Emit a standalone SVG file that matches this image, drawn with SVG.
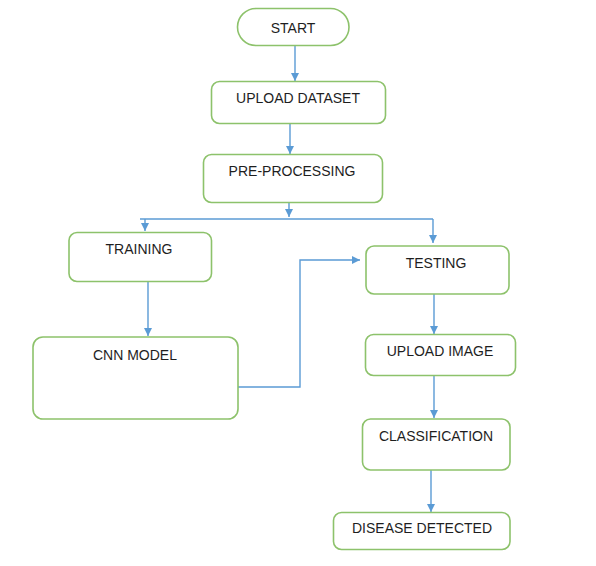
<svg xmlns="http://www.w3.org/2000/svg" width="596" height="566" viewBox="0 0 596 566">
<style>
.box{fill:#fff;stroke:#8dc26b;stroke-width:1.6}
.t{font-family:"Liberation Sans",Arial,sans-serif;font-size:14px;fill:#1e1e1e;text-anchor:middle}
.c{fill:none;stroke:#5b9bd5;stroke-width:1.4}
</style>
<defs>
<marker id="ah" viewBox="0 0 10 10" refX="10" refY="5" markerWidth="8" markerHeight="8" markerUnits="userSpaceOnUse" orient="auto">
<path d="M0,0 L10,5 L0,10 z" fill="#5b9bd5"/>
</marker>
</defs>
<rect width="596" height="566" fill="#fff"/>
<g id="connectors">
<path class="c" d="M295,46 V81" marker-end="url(#ah)"/>
<path class="c" d="M290,123 V154" marker-end="url(#ah)"/>
<path class="c" d="M289,202 V217" marker-end="url(#ah)"/>
<path class="c" d="M140,219 H433"/>
<path class="c" d="M145,219 V231" marker-end="url(#ah)"/>
<path class="c" d="M433,219 V243" marker-end="url(#ah)"/>
<path class="c" d="M148,281 V336" marker-end="url(#ah)"/>
<path class="c" d="M238,387 H300 V260 H360" marker-end="url(#ah)"/>
<path class="c" d="M434,294 V334" marker-end="url(#ah)"/>
<path class="c" d="M434,375 V418" marker-end="url(#ah)"/>
<path class="c" d="M431,470 V512" marker-end="url(#ah)"/>
</g>
<g id="start"><rect class="box" x="237.5" y="8.5" width="111.5" height="37" rx="18.5"/><text class="t" x="293" y="33">START</text></g>
<g id="upload-dataset"><rect class="box" x="211.5" y="81.5" width="174" height="42" rx="8"/><text class="t" x="298" y="103">UPLOAD DATASET</text></g>
<g id="pre-processing"><rect class="box" x="203.5" y="154.5" width="179" height="48" rx="8"/><text class="t" x="292" y="176">PRE-PROCESSING</text></g>
<g id="training"><rect class="box" x="69" y="232.5" width="142.5" height="49" rx="8"/><text class="t" x="139" y="254">TRAINING</text></g>
<g id="cnn-model"><rect class="box" x="33" y="337" width="205" height="82" rx="10"/><text class="t" x="135" y="360">CNN MODEL</text></g>
<g id="testing"><rect class="box" x="366" y="246" width="143" height="48" rx="8"/><text class="t" x="436" y="268">TESTING</text></g>
<g id="upload-image"><rect class="box" x="365.5" y="334.5" width="150" height="41" rx="8"/><text class="t" x="440" y="356">UPLOAD IMAGE</text></g>
<g id="classification"><rect class="box" x="362.5" y="419" width="147.5" height="51" rx="8"/><text class="t" x="436" y="441">CLASSIFICATION</text></g>
<g id="disease-detected"><rect class="box" x="333.5" y="512.5" width="176.5" height="37" rx="8"/><text class="t" x="422" y="533">DISEASE DETECTED</text></g>
</svg>
